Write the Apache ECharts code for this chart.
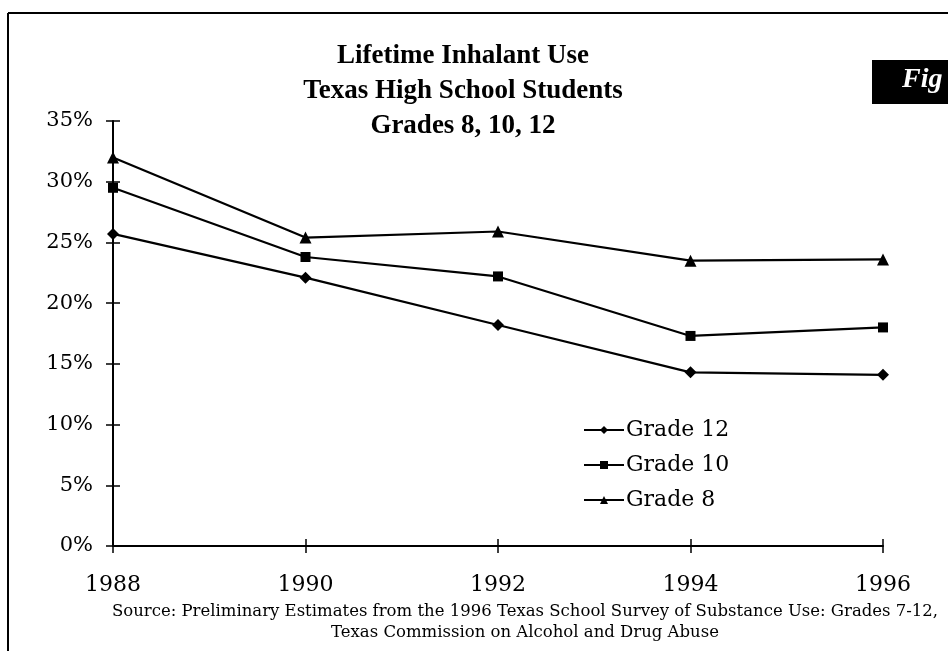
<!DOCTYPE html>
<html>
<head>
<meta charset="utf-8">
<script src="https://cdn.jsdelivr.net/npm/echarts@6/dist/echarts.min.js"></script>
<style>
  html, body { margin: 0; padding: 0; background: #fff; }
  #chart { width: 948px; height: 651px; }
</style>
</head>
<body>
<div id="chart"></div>
<script>
// 数据
var years = ['1988', '1990', '1992', '1994', '1996'];
var grade12 = [25.7, 22.1, 18.2, 14.3, 14.1];
var grade10 = [29.5, 23.8, 22.2, 17.3, 18.0];
var grade8 = [32.0, 25.4, 25.9, 23.5, 23.6];
var seriesNames = ['Grade 12', 'Grade 10', 'Grade 8'];
var yTicks = [0, 5, 10, 15, 20, 25, 30, 35];

var serif = '"DejaVu Serif", serif';
var chart = echarts.init(document.getElementById('chart'));

var lineStyle = { color: '#000', width: 2.2 };
function mkSeries(name, data, symbol, size) {
  return {
    name: name,
    type: 'line',
    data: data,
    symbol: symbol,
    symbolSize: size,
    showSymbol: true,
    itemStyle: { color: '#000' },
    lineStyle: lineStyle,
    emphasis: { disabled: true }
  };
}

var option = {
  animation: false,
  backgroundColor: '#fff',
  title: {
    text: 'Lifetime Inhalant Use\nTexas High School Students\nGrades 8, 10, 12',
    left: 458,
    top: 34,
    textAlign: 'center',
    textStyle: {
      fontFamily: '"Liberation Serif", serif',
      fontWeight: 'bold',
      fontSize: 27,
      lineHeight: 35,
      color: '#000'
    }
  },
  legend: {
    data: seriesNames,
    orient: 'vertical',
    left: 578,
    top: 414,
    itemWidth: 40,
    itemHeight: 10,
    itemGap: 13,
    textStyle: { fontFamily: serif, fontSize: 22, color: '#000', padding: [0, 0, 0, -3] }
  },
  grid: { left: 113, right: 65, top: 121, bottom: 105 },
  xAxis: [{
    type: 'category',
    data: years,
    boundaryGap: false,
    axisLine: { lineStyle: { color: '#000', width: 2 } },
    axisTick: { show: true, length: 7, lineStyle: { color: '#000', width: 1.5 } },
    axisLabel: { fontFamily: serif, fontSize: 22, color: '#000', margin: 28 }
  }, {
    type: 'category',
    data: years,
    boundaryGap: false,
    position: 'bottom',
    axisLine: { show: false },
    axisTick: { show: true, inside: true, length: 7, lineStyle: { color: '#000', width: 1.5 } },
    axisLabel: { show: false }
  }],
  yAxis: [{
    type: 'value',
    min: 0,
    max: 35,
    interval: 5,
    splitLine: { show: false },
    axisLine: { show: true, lineStyle: { color: '#000', width: 2 } },
    axisTick: { show: true, length: 7, lineStyle: { color: '#000', width: 1.5 } },
    axisLabel: {
      fontFamily: serif, fontSize: 21, color: '#000', margin: 20,
      formatter: function (v) { return yTicks.indexOf(v) >= 0 ? v + '%' : ''; }
    }
  }, {
    type: 'value',
    min: 0,
    max: 35,
    interval: 5,
    position: 'left',
    splitLine: { show: false },
    axisLine: { show: false },
    axisTick: { show: true, inside: true, length: 7, lineStyle: { color: '#000', width: 1.5 } },
    axisLabel: { show: false }
  }],
  series: [
    mkSeries('Grade 12', grade12, 'diamond', 12),
    mkSeries('Grade 10', grade10, 'rect', 10),
    mkSeries('Grade 8', grade8, 'triangle', 12)
  ],
  graphic: [
    { type: 'line', shape: { x1: 8, y1: 13, x2: 948, y2: 13 }, style: { stroke: '#000', lineWidth: 2 } },
    { type: 'line', shape: { x1: 8, y1: 13, x2: 8, y2: 651 }, style: { stroke: '#000', lineWidth: 2 } },
    { type: 'rect', shape: { x: 872, y: 60, width: 80, height: 44 }, style: { fill: '#000' } },
    {
      type: 'text', left: 902, top: 66,
      style: { text: 'Fig', fill: '#fff', font: 'italic bold 28px "Liberation Serif", serif' }
    },
    {
      type: 'text',
      style: {
        x: 525, y: 601,
        text: 'Source: Preliminary Estimates from the 1996 Texas School Survey of Substance Use: Grades 7-12,\nTexas Commission on Alcohol and Drug Abuse',
        textAlign: 'center',
        fill: '#000',
        lineHeight: 21,
        font: '16.5px "DejaVu Serif", serif'
      }
    }
  ]
};

chart.setOption(option);
</script>
</body>
</html>
